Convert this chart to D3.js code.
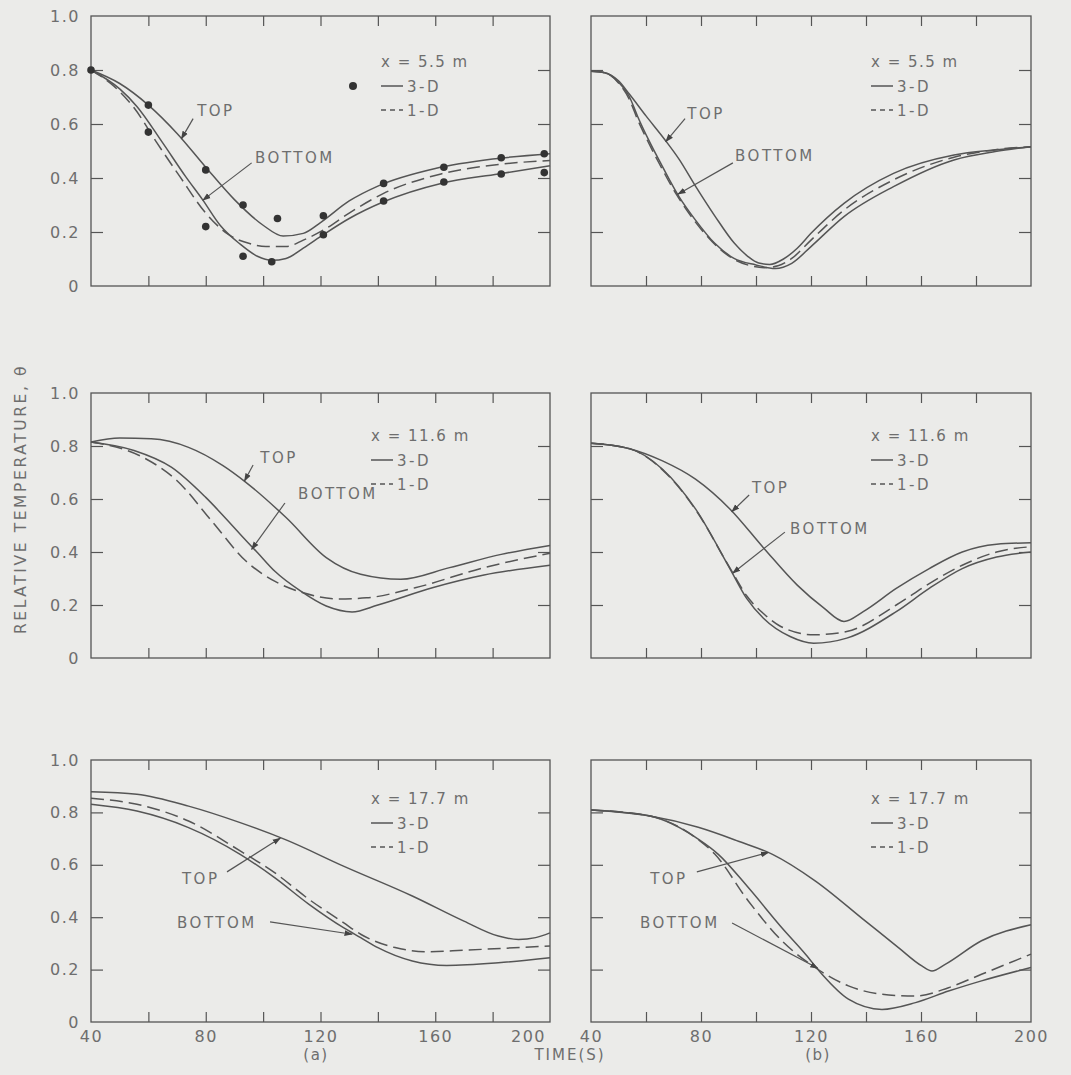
<!DOCTYPE html>
<html>
<head>
<meta charset="utf-8">
<title>Relative temperature vs time</title>
<style>
  body { margin: 0; background: #ebebe9; }
  text { font-family: "DejaVu Sans", sans-serif; fill: #6e6e6e; }
</style>
</head>
<body>
<div id="chart"></div>
<script src="https://cdn.jsdelivr.net/npm/d3@7"></script>
<script>
// ---- data: [time (s), relative temperature] ----
var a55Top    = [[40,0.80],[50,0.75],[60,0.67],[70,0.565],[80,0.44],[90,0.32],[100,0.225],[107,0.185],[114,0.195],[120,0.235],[130,0.315],[140,0.37],[160,0.435],[180,0.47],[200,0.49]];
var a55Bottom = [[40,0.80],[50,0.73],[56,0.665],[65,0.53],[73,0.405],[79,0.318],[85,0.225],[92,0.155],[98,0.11],[103,0.095],[108,0.102],[114,0.14],[121,0.19],[130,0.25],[142,0.312],[162,0.38],[182,0.415],[200,0.445]];
var a55OneD   = [[40,0.80],[48,0.74],[55,0.66],[63,0.53],[71,0.405],[80,0.27],[88,0.19],[95,0.158],[101,0.146],[108,0.146],[114,0.17],[121,0.207],[130,0.27],[142,0.343],[162,0.415],[182,0.45],[200,0.465]];
var a55Measured = [[40,0.80],[60,0.67],[60,0.57],[80,0.43],[80,0.22],[93,0.30],[93,0.11],[105,0.25],[103,0.09],[121,0.26],[121,0.19],[142,0.38],[142,0.315],[163,0.44],[163,0.385],[183,0.475],[183,0.415],[198,0.49],[198,0.42]];

var b55Top    = [[40,0.795],[45,0.79],[50,0.76],[54,0.71],[60,0.63],[67,0.54],[72,0.47],[78,0.37],[85,0.26],[92,0.16],[97,0.11],[101,0.085],[105,0.08],[110,0.1],[115,0.14],[120,0.195],[132,0.306],[150,0.417],[172,0.485],[187,0.504],[200,0.516]];
var b55Bottom = [[40,0.795],[45,0.79],[50,0.755],[54,0.70],[57,0.627],[61,0.54],[66,0.442],[72,0.331],[78,0.244],[85,0.158],[92,0.102],[100,0.078],[107,0.065],[113,0.084],[120,0.146],[132,0.257],[150,0.368],[172,0.467],[187,0.498],[200,0.516]];
var b55OneD   = [[40,0.795],[45,0.79],[50,0.752],[54,0.69],[57,0.615],[60,0.55],[65,0.45],[71,0.34],[77,0.25],[84,0.165],[91,0.105],[98,0.075],[103,0.068],[108,0.075],[113,0.102],[120,0.17],[132,0.281],[150,0.393],[172,0.477],[187,0.505],[200,0.516]];

var a116Top    = [[40,0.815],[50,0.83],[61,0.827],[74,0.795],[86,0.726],[94,0.663],[108,0.53],[122,0.379],[134,0.316],[148,0.297],[165,0.341],[183,0.391],[200,0.425]];
var a116Bottom = [[40,0.815],[55,0.783],[68,0.72],[80,0.606],[92,0.467],[98,0.398],[104,0.328],[113,0.253],[122,0.196],[131,0.174],[140,0.20],[159,0.265],[177,0.313],[200,0.35]];
var a116OneD   = [[40,0.815],[58,0.758],[70,0.669],[82,0.518],[94,0.366],[104,0.29],[114,0.246],[126,0.223],[136,0.227],[153,0.265],[177,0.341],[200,0.395]];

var b116Top    = [[40,0.81],[54,0.79],[66,0.744],[78,0.675],[90.5,0.5625],[103,0.4125],[115,0.275],[124.5,0.19],[132,0.138],[139,0.175],[151,0.2625],[163,0.3375],[175,0.40],[187.5,0.429],[200,0.435]];
var b116Bottom = [[40,0.81],[54,0.79],[66,0.7125],[78,0.5625],[90.5,0.3375],[96.6,0.225],[102.7,0.15],[112.4,0.081],[121,0.056],[133,0.075],[151,0.175],[163,0.2625],[175,0.3375],[187.5,0.381],[200,0.40]];
var b116OneD   = [[40,0.81],[54,0.79],[66,0.71],[78,0.56],[90.5,0.34],[96.6,0.235],[103,0.165],[109,0.119],[121,0.0875],[133,0.10],[151,0.20],[163,0.281],[175,0.35],[187.5,0.40],[200,0.42]];

var a177Top    = [[40,0.879],[56,0.869],[74,0.824],[92,0.761],[108,0.695],[128,0.595],[152,0.481],[170,0.385],[182,0.328],[189,0.315],[195,0.322],[200,0.34]];
var a177Bottom = [[40,0.831],[56,0.805],[74,0.742],[92,0.64],[104,0.551],[116,0.449],[128,0.36],[134,0.322],[140,0.284],[152,0.233],[164,0.216],[182,0.226],[200,0.245]];
var a177OneD   = [[40,0.854],[56,0.831],[74,0.767],[92,0.653],[104,0.57],[116,0.468],[128,0.379],[134,0.335],[146,0.284],[158,0.268],[170,0.274],[200,0.29]];

var b177Top    = [[40,0.809],[61,0.787],[79,0.743],[93.6,0.69],[106,0.64],[121.5,0.539],[139.7,0.386],[151.8,0.284],[160.3,0.214],[164,0.195],[168.8,0.22],[182,0.31],[200,0.371]];
var b177Bottom = [[40,0.809],[61,0.787],[79,0.698],[86.3,0.64],[97.2,0.513],[109.4,0.36],[118,0.259],[124,0.182],[133.6,0.087],[145.8,0.048],[158,0.074],[170,0.118],[182,0.157],[200,0.208]];
var b177OneD   = [[40,0.809],[61,0.787],[78,0.704],[85,0.641],[97.2,0.462],[109.4,0.31],[121.5,0.208],[133.6,0.138],[145.8,0.106],[158,0.099],[170,0.131],[182,0.182],[200,0.259]];

var locations = ["x = 5.5 m", "x = 11.6 m", "x = 17.7 m"];
var xTickLabels = [40, 80, 120, 160, 200];
var yTickLabels = [0, 0.2, 0.4, 0.6, 0.8, 1.0];

// ---- layout ----
var W = 1071, H = 1075;
var cols = [{ x0: 91, x1: 550 }, { x0: 591, x1: 1031 }];
var rows = [{ y0: 16, y1: 286, leg: 51 }, { y0: 393, y1: 658, leg: 48 }, { y0: 760, y1: 1022, leg: 44 }];
var ink = "#555";

// label/leader spots per panel, in (time, theta) coordinates
var panels = [
  { r: 0, c: 0, top: a55Top, bottom: a55Bottom, oneD: a55OneD, dots: a55Measured,
    topLbl: [77, 0.63], topLead: [[75.6, 0.62], [71.5, 0.545]],
    botLbl: [97.2, 0.456], botLead: [[96, 0.456], [79, 0.318]] },
  { r: 0, c: 1, top: b55Top, bottom: b55Bottom, oneD: b55OneD,
    topLbl: [75, 0.62], topLead: [[74.2, 0.62], [67.2, 0.535]],
    botLbl: [92.4, 0.463], botLead: [[91.6, 0.456], [71.6, 0.34]] },
  { r: 1, c: 0, top: a116Top, bottom: a116Bottom, oneD: a116OneD,
    topLbl: [99, 0.736], topLead: [[96.5, 0.728], [93.5, 0.668]],
    botLbl: [112.2, 0.6], botLead: [[107.6, 0.585], [96, 0.41]] },
  { r: 1, c: 1, top: b116Top, bottom: b116Bottom, oneD: b116OneD,
    topLbl: [98.5, 0.623], topLead: [[97.5, 0.615], [91.2, 0.552]],
    botLbl: [112.4, 0.468], botLead: [[110.5, 0.475], [91.5, 0.32]] },
  { r: 2, c: 0, top: a177Top, bottom: a177Bottom, oneD: a177OneD,
    topLbl: [71.7, 0.527], topLead: [[87.4, 0.573], [106, 0.702]],
    botLbl: [70, 0.359], botLead: [[102.4, 0.382], [131, 0.335]] },
  { r: 2, c: 1, top: b177Top, bottom: b177Bottom, oneD: b177OneD,
    topLbl: [61.5, 0.527], topLead: [[78.5, 0.573], [104.5, 0.647]],
    botLbl: [57.8, 0.359], botLead: [[91.3, 0.378], [122.5, 0.205]] }
];

var svg = d3.select("#chart").append("svg")
  .attr("width", W).attr("height", H);
svg.append("rect").attr("width", W).attr("height", H).attr("fill", "#ebebe9");

svg.append("defs").append("marker")
  .attr("id", "arrow").attr("viewBox", "0 0 10 10")
  .attr("refX", 9).attr("refY", 5)
  .attr("markerWidth", 7).attr("markerHeight", 7)
  .attr("orient", "auto")
  .append("path").attr("d", "M0,1.5 L10,5 L0,8.5 Z").attr("fill", "#444");

function styleLabels(s) {
  s.select(".domain").remove();
  s.selectAll("text").attr("font-size", 16).attr("letter-spacing", 1.5)
    .attr("fill", "#6e6e6e").style("font-family", "DejaVu Sans");
}

panels.forEach(function(p) {
  var col = cols[p.c], row = rows[p.r];
  var x = d3.scaleLinear().domain([40, 200]).range([col.x0, col.x1]);
  var y = d3.scaleLinear().domain([0, 1]).range([row.y1, row.y0]);
  var g = svg.append("g");

  // inward ticks on all four sides
  var inner = [60, 80, 100, 120, 140, 160, 180];
  var innerY = [0.2, 0.4, 0.6, 0.8];
  [[d3.axisBottom(x), row.y1], [d3.axisTop(x), row.y0]].forEach(function(a) {
    g.append("g").attr("transform", "translate(0," + a[1] + ")")
      .call(a[0].tickValues(inner).tickSize(-10).tickFormat(""))
      .call(function(s) { s.select(".domain").remove(); s.selectAll("line").attr("stroke", ink).attr("stroke-width", 1.2); });
  });
  [[d3.axisLeft(y), col.x0], [d3.axisRight(y), col.x1]].forEach(function(a) {
    g.append("g").attr("transform", "translate(" + a[1] + ",0)")
      .call(a[0].tickValues(innerY).tickSize(-12).tickFormat(""))
      .call(function(s) { s.select(".domain").remove(); s.selectAll("line").attr("stroke", ink).attr("stroke-width", 1.2); });
  });

  g.append("rect")
    .attr("x", col.x0).attr("y", row.y0)
    .attr("width", col.x1 - col.x0).attr("height", row.y1 - row.y0)
    .attr("fill", "none").attr("stroke", ink).attr("stroke-width", 1.3);

  // tick labels
  if (p.c === 0) {
    g.append("g").attr("transform", "translate(" + (col.x0 - 8) + ",0)")
      .call(d3.axisLeft(y).tickValues(yTickLabels).tickSize(0)
        .tickFormat(function(d) { return d === 0 ? "0" : d.toFixed(1); }))
      .call(styleLabels);
  }
  if (p.r === 2) {
    var xa = g.append("g").attr("transform", "translate(0," + (row.y1 + 6) + ")")
      .call(d3.axisBottom(x).tickValues(xTickLabels).tickSize(0))
      .call(styleLabels);
    // left panel's last label sits left of the gap, as in the original
    if (p.c === 0) {
      xa.selectAll("text").filter(function(d) { return d === 200; }).attr("dx", -22);
    }
  }

  // curves
  var line = d3.line()
    .x(function(d) { return x(d[0]); })
    .y(function(d) { return y(d[1]); })
    .curve(d3.curveMonotoneX);
  [[p.top, null], [p.bottom, null], [p.oneD, "13,6"]].forEach(function(s) {
    g.append("path").datum(s[0]).attr("d", line)
      .attr("fill", "none").attr("stroke", ink).attr("stroke-width", 1.5)
      .attr("stroke-dasharray", s[1]);
  });
  if (p.dots) {
    g.selectAll(".dot").data(p.dots).enter().append("circle")
      .attr("class", "dot")
      .attr("cx", function(d) { return x(d[0]); })
      .attr("cy", function(d) { return y(d[1]); })
      .attr("r", 3.8).attr("fill", "#333");
  }

  // TOP / BOTTOM labels with leaders
  [["TOP", p.topLbl, p.topLead], ["BOTTOM", p.botLbl, p.botLead]].forEach(function(a) {
    g.append("text").text(a[0])
      .attr("x", x(a[1][0])).attr("y", y(a[1][1]))
      .attr("font-size", 15).attr("letter-spacing", 2.5);
    g.append("line")
      .attr("x1", x(a[2][0][0])).attr("y1", y(a[2][0][1]))
      .attr("x2", x(a[2][1][0])).attr("y2", y(a[2][1][1]))
      .attr("stroke", "#555").attr("stroke-width", 1.2)
      .attr("marker-end", "url(#arrow)");
  });

  // legend
  var lx = col.x0 + (p.dots ? 290 : 280), ly = row.y0 + row.leg;
  g.append("text").text(locations[p.r])
    .attr("x", lx).attr("y", ly).attr("font-size", 15).attr("letter-spacing", 1.5);
  [["3-D", null], ["1-D", "5,4"]].forEach(function(s, i) {
    var yy = ly + 24 * (i + 1) - 5;
    g.append("line").attr("x1", lx).attr("x2", lx + 22).attr("y1", yy).attr("y2", yy)
      .attr("stroke", ink).attr("stroke-width", 1.5).attr("stroke-dasharray", s[1]);
    g.append("text").text(s[0]).attr("x", lx + 26).attr("y", yy + 6)
      .attr("font-size", 15).attr("letter-spacing", 2.5);
  });
  if (p.dots) {
    g.append("circle").attr("cx", lx - 28).attr("cy", ly + 19).attr("r", 4).attr("fill", "#333");
  }
});

// shared labels
svg.append("text").text("RELATIVE TEMPERATURE, \u03b8")
  .attr("transform", "translate(26,499) rotate(-90)")
  .attr("text-anchor", "middle").attr("font-size", 15.5).attr("letter-spacing", 2.6);
svg.append("text").text("TIME(S)").attr("x", 570).attr("y", 1060)
  .attr("text-anchor", "middle").attr("font-size", 15).attr("letter-spacing", 2);
svg.append("text").text("(a)").attr("x", 316).attr("y", 1060)
  .attr("text-anchor", "middle").attr("font-size", 15).attr("letter-spacing", 1.5);
svg.append("text").text("(b)").attr("x", 818).attr("y", 1060)
  .attr("text-anchor", "middle").attr("font-size", 15).attr("letter-spacing", 1.5);
</script>
</body>
</html>
